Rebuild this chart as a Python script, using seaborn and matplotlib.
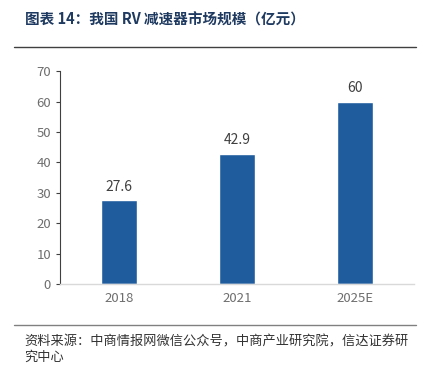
import matplotlib
matplotlib.use("Agg")
import matplotlib.pyplot as plt
import seaborn as sns
import pandas as pd
from matplotlib.lines import Line2D

years = ["2018", "2021", "2025E"]
values = [27.6, 42.9, 60]
yticks = [0, 10, 20, 30, 40, 50, 60, 70]

title = "图表 14：我国 RV 减速器市场规模（亿元）"
source1 = "资料来源：中商情报网微信公众号，中商产业研究院，信达证券研"
source2 = "究中心"

sns.set_style("white")
plt.rcParams['font.family'] = ['Noto Sans CJK SC', 'DejaVu Sans']

df = pd.DataFrame({"year": years, "value": values})

fig = plt.figure(figsize=(4.32, 3.65), dpi=100)
ax = fig.add_axes([0.139, 0.222, 0.819, 0.583])

bar_color = "#1F5C9E"
sns.barplot(data=df, x="year", y="value", color=bar_color, width=0.31,
            saturation=1, ax=ax)

for i, v in enumerate(values):
    ax.text(i, v + 2.0, f"{v:g}", ha="center", va="bottom",
            fontsize=10, color="#404040")

ax.set_ylim(0, 70)
ax.set_xlim(-0.5, 2.5)
ax.set_yticks(yticks)
ax.set_xlabel("")
ax.set_ylabel("")
ax.tick_params(axis="y", direction="out", length=3, width=0.8,
               colors="#404040", labelcolor="#6E6E6E", labelsize=9.5, left=True)
ax.tick_params(axis="x", length=0, labelcolor="#6E6E6E", labelsize=9.5, pad=6)

for s in ["top", "right"]:
    ax.spines[s].set_visible(False)
ax.spines["left"].set_color("#404040")
ax.spines["left"].set_linewidth(0.8)
ax.spines["bottom"].set_color("#D9D9D9")
ax.spines["bottom"].set_linewidth(1.0)

# title and rules
fig.text(25 / 432, 1 - 20 / 365, title, fontsize=10.5, fontweight="bold",
         color="#1F3A60", ha="left", va="center")
fig.add_artist(Line2D([14 / 432, 416 / 432], [1 - 47 / 365, 1 - 47 / 365],
                      color="#404040", linewidth=1.0))
fig.add_artist(Line2D([14 / 432, 416 / 432], [1 - 325 / 365, 1 - 325 / 365],
                      color="#808080", linewidth=1.0))

fig.text(24 / 432, 1 - 342 / 365, source1, fontsize=9.5, style="italic",
         color="#333333", ha="left", va="center")
fig.text(24 / 432, 1 - 357 / 365, source2, fontsize=9.5, style="italic",
         color="#333333", ha="left", va="center")

fig.savefig("out.png", dpi=100)
